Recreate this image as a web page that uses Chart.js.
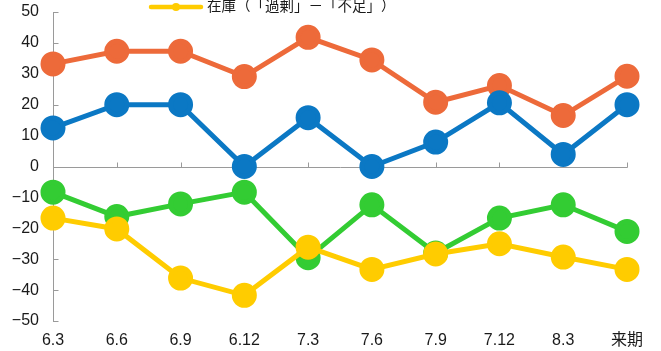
<!DOCTYPE html>
<html>
<head>
<meta charset="utf-8">
<script src="https://cdn.jsdelivr.net/npm/chart.js@4"></script>
<style>
  html, body { margin: 0; padding: 0; background: #fff; }
  #wrap { width: 661px; height: 351px; }
</style>
</head>
<body>
<div id="wrap"><canvas id="chart"></canvas></div>
<script>
// periods on the x axis
const periods = ['6.3', '6.6', '6.9', '6.12', '7.3', '7.6', '7.9', '7.12', '8.3', '来期'];

// DI series (percentage points)
const salesDI    = [33.2, 37.3, 37.3, 29.1, 41.8, 34.5, 20.8, 26.2, 16.5, 29.2];
const profitDI   = [12.5, 20, 20, 0, 15.8, 0, 7.9, 20.6, 3.9, 20];
const fundsDI    = [-8.3, -16.2, -12.1, -8.3, -29.5, -12.4, -28, -16.7, -12.4, -21];
const stockDI    = [-16.7, -20.2, -36.1, -41.7, -26.1, -33.3, -28.3, -25, -29.3, -33.3];

const yTicks = [50, 40, 30, 20, 10, 0, -10, -20, -30, -40, -50];

const axisGray = '#9a9a9a';
const FONT = '"Liberation Sans", "Noto Sans CJK JP", sans-serif';

function series(label, data, color, order) {
    return {
        label: label,
        data: data,
        borderColor: color,
        backgroundColor: color,
        pointBackgroundColor: color,
        pointBorderColor: color,
        borderWidth: 5,
        pointRadius: 10,
        pointHoverRadius: 10,
        tension: 0,
        clip: false,
        order: order
    };
}

////// zero line, inner tick marks
const axisMarks = {
    id: 'axisMarks',
    beforeDatasetsDraw(chart) {
        const ctx = chart.ctx;
        const x = chart.scales.x, y = chart.scales.y;
        const y0 = Math.round(y.getPixelForValue(0)) + 0.5;
        const left = Math.round(x.getPixelForValue(0)) + 0.5;
        const right = Math.round(x.getPixelForValue(periods.length - 1)) + 0.5;
        ctx.save();
        ctx.strokeStyle = axisGray;
        ctx.lineWidth = 1;
        ctx.beginPath();
        ctx.moveTo(left, y0);
        ctx.lineTo(right, y0);
        for (let i = 1; i < periods.length; i++) {
            const px = Math.round(x.getPixelForValue(i)) + 0.5;
            ctx.moveTo(px, y0);
            ctx.lineTo(px, y0 - 5);
        }
        yTicks.forEach(v => {
            const py = Math.round(y.getPixelForValue(v)) + 0.5;
            ctx.moveTo(left, py);
            ctx.lineTo(left + 5, py);
        });
        ctx.stroke();
        ctx.restore();
    }
};

////// legend entry for the stock series (full-width glyphs on a fixed pitch)
const stockLegend = {
    id: 'stockLegend',
    afterDraw(chart) {
        const ctx = chart.ctx;
        const ds = chart.data.datasets[3];
        ctx.save();
        ctx.strokeStyle = ds.borderColor;
        ctx.fillStyle = ds.borderColor;
        ctx.lineWidth = 4.5;
        ctx.lineCap = 'round';
        ctx.beginPath();
        ctx.moveTo(151, 7);
        ctx.lineTo(201, 7);
        ctx.stroke();
        ctx.beginPath();
        ctx.arc(176, 7, 4, 0, Math.PI * 2);
        ctx.fill();
        ctx.fillStyle = '#1a1a1a';
        ctx.font = '14.5px "Noto Sans CJK JP"';
        ctx.textBaseline = 'middle';
        ctx.textAlign = 'center';
        Array.from(ds.label).forEach((ch, i) => {
            ctx.fillText(ch, 207 + 7.25 + i * 14.5, 5);
        });
        ctx.restore();
    }
};

new Chart(document.getElementById('chart').getContext('2d'), {
    type: 'line',
    data: {
        labels: periods,
        datasets: [
            series('売上高（「増加」－「減少」）', salesDI, 'rgb(237,106,58)', 4),
            series('経常利益（「増加」－「減少」）', profitDI, 'rgb(11,120,196)', 3),
            series('資金繰り（「楽」－「苦しい」）', fundsDI, 'rgb(51,204,51)', 2),
            series('在庫（「過剰」－「不足」）', stockDI, 'rgb(255,204,0)', 1)
        ]
    },
    options: {
        responsive: true,
        maintainAspectRatio: false,
        animation: false,
        events: [],
        layout: { autoPadding: false, padding: { top: 12, right: 34, bottom: 0, left: 0 } },
        plugins: {
            legend: { display: false },
            tooltip: { enabled: false }
        },
        scales: {
            x: {
                offset: false,
                afterFit(scale) {
                    scale.height = 30;
                    scale.paddingLeft = 0;
                    scale.paddingRight = 0;
                },
                grid: { display: false, drawTicks: false },
                border: { display: false },
                ticks: {
                    color: '#1a1a1a',
                    font: { family: FONT, size: 16 },
                    padding: 10,
                    maxRotation: 0,
                    autoSkip: false
                }
            },
            y: {
                min: -50,
                max: 50,
                afterFit(scale) {
                    scale.width = 53;
                    scale.paddingTop = 0;
                    scale.paddingBottom = 0;
                },
                afterBuildTicks(scale) { scale.ticks = yTicks.map(v => ({ value: v })); },
                grid: { display: false, drawTicks: false },
                border: { display: true, color: axisGray, width: 1 },
                ticks: {
                    color: '#1a1a1a',
                    font: { family: FONT, size: 16 },
                    padding: 14,
                    callback: v => String(v).replace('-', '\u2212')
                }
            }
        }
    },
    plugins: [axisMarks, stockLegend]
});
</script>
</body>
</html>
